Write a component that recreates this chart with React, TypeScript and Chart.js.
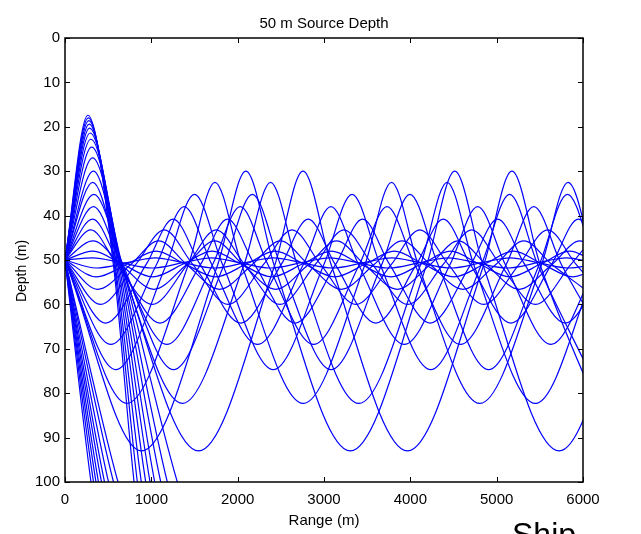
import React, { useEffect, useRef } from "react";
import { Chart, registerables } from "chart.js";

Chart.register(...registerables);

// ---- Text ----
const chartTitle = "50 m Source Depth";
const xTitle = "Range (m)";
const yTitle = "Depth (m)";

// ---- Axis ticks ----
const rangeTicks = [0, 1000, 2000, 3000, 4000, 5000, 6000];
const depthTicks = [0, 10, 20, 30, 40, 50, 60, 70, 80, 90, 100];

// ---- Rays: [range (m), depth (m)] at launch, turning points and source-depth crossings ----
// trapped rays launched downward / upward (pairs with the same launch angle)
const rayA = [[0,50],[885,93],[1770,51],[2095,30],[2420,51],[3305,93],[4190,51],[4515,30],[4840,51],[5725,93],[6610,51]];
const rayB = [[0,50],[330,30],[655,51],[1547,93],[2432,51],[2757,30],[3082,51],[3967,93],[4852,51],[5177,30],[5502,51],[6387,93]];
const rayC = [[0,50],[715,82.3],[1430,51],[1737,32.5],[2045,51],[2760,82.3],[3475,51],[3782,32.5],[4090,51],[4805,82.3],[5520,51],[5827,32.5],[6135,51]];
const rayD = [[0,50],[322,32.5],[644,51],[1359,82.3],[2074,51],[2381,32.5],[2689,51],[3404,82.3],[4119,51],[4426,32.5],[4734,51],[5449,82.3],[6164,51]];
const rayE = [[0,50],[587,74.7],[1174,51],[1500,35.2],[1825,51],[2412,74.7],[2999,51],[3325,35.2],[3650,51],[4237,74.7],[4824,51],[5150,35.2],[5475,51],[6062,74.7]];
const rayF = [[0,50],[335,35.2],[670,51],[1257,74.7],[1844,51],[2170,35.2],[2495,51],[3082,74.7],[3669,51],[3995,35.2],[4320,51],[4907,74.7],[5494,51],[5820,35.2],[6145,51]];
const rayG = [[0,50],[530,69],[1060,51],[1380,38],[1700,51],[2230,69],[2760,51],[3080,38],[3400,51],[3930,69],[4460,51],[4780,38],[5100,51],[5630,69],[6160,51]];
const rayH = [[0,50],[330,38],[650,51],[1180,69],[1710,51],[2030,38],[2350,51],[2880,69],[3410,51],[3730,38],[4050,51],[4580,69],[5110,51],[5430,38],[5750,51],[6280,69]];
const rayI = [[0,50],[470,64.2],[940,51],[1252,40.8],[1565,51],[2035,64.2],[2505,51],[2817,40.8],[3130,51],[3600,64.2],[4070,51],[4382,40.8],[4695,51],[5165,64.2],[5635,51],[5947,40.8],[6260,51]];
const rayJ = [[0,50],[320,40.8],[630,51],[1100,64.2],[1570,51],[1882,40.8],[2195,51],[2665,64.2],[3135,51],[3447,40.8],[3760,51],[4230,64.2],[4700,51],[5012,40.8],[5325,51],[5795,64.2],[6265,51]];
const rayK = [[0,50],[410,60],[820,51],[1150,43.2],[1480,51],[1890,60],[2300,51],[2630,43.2],[2960,51],[3370,60],[3780,51],[4110,43.2],[4440,51],[4850,60],[5260,51],[5590,43.2],[5920,51],[6330,60]];
const rayL = [[0,50],[300,43.2],[600,51],[1010,60],[1420,51],[1750,43.2],[2080,51],[2490,60],[2900,51],[3230,43.2],[3560,51],[3970,60],[4380,51],[4710,43.2],[5040,51],[5450,60],[5860,51],[6190,43.2]];
const rayM = [[0,50],[380,56.6],[760,51],[1085,45.7],[1410,51],[1790,56.6],[2170,51],[2495,45.7],[2820,51],[3200,56.6],[3580,51],[3905,45.7],[4230,51],[4610,56.6],[4990,51],[5315,45.7],[5640,51],[6020,56.6]];
const rayN = [[0,50],[325,45.7],[650,51],[1030,56.6],[1410,51],[1735,45.7],[2060,51],[2440,56.6],[2820,51],[3145,45.7],[3470,51],[3850,56.6],[4230,51],[4555,45.7],[4880,51],[5260,56.6],[5640,51],[5965,45.7],[6290,51]];
const rayO = [[0,50],[365,53.8],[730,50.8],[1055,48],[1380,50.8],[1745,53.8],[2110,50.8],[2435,48],[2760,50.8],[3125,53.8],[3490,50.8],[3815,48],[4140,50.8],[4505,53.8],[4870,50.8],[5195,48],[5520,50.8],[5885,53.8],[6250,50.8]];
const rayP = [[0,50],[325,48],[650,50.8],[1015,53.8],[1380,50.8],[1705,48],[2030,50.8],[2395,53.8],[2760,50.8],[3085,48],[3410,50.8],[3775,53.8],[4140,50.8],[4465,48],[4790,50.8],[5155,53.8],[5520,50.8],[5845,48],[6170,50.8]];
const rayQ = [[0,50],[360,51.8],[720,50.6],[1045,49.5],[1370,50.6],[1730,51.8],[2090,50.6],[2415,49.5],[2740,50.6],[3100,51.8],[3460,50.6],[3785,49.5],[4110,50.6],[4470,51.8],[4830,50.6],[5155,49.5],[5480,50.6],[5840,51.8],[6200,50.6]];
const rayR = [[0,50],[325,49.5],[650,50.6],[1010,51.8],[1370,50.6],[1695,49.5],[2020,50.6],[2380,51.8],[2740,50.6],[3065,49.5],[3390,50.6],[3750,51.8],[4110,50.6],[4435,49.5],[4760,50.6],[5120,51.8],[5480,50.6],[5805,49.5],[6130,50.6]];

// steep rays that reach the bottom (100 m)
const steepDown1 = [[0,50],[301,100],[376,109]];
const steepDown2 = [[0,50],[330,100],[413,109]];
const steepDown3 = [[0,50],[359,100],[449,109]];
const steepDown4 = [[0,50],[388,100],[485,109]];
const steepDown5 = [[0,50],[423,100],[529,109]];
const steepDown6 = [[0,50],[458,100],[573,109]];
const steepDown7 = [[0,50],[504,100],[630,109]];
const steepDown8 = [[0,50],[562,100],[703,109]];
const steepDown9 = [[0,50],[614,100],[768,109]];

const steepUp1 = [[0,50],[265,17.4],[560,51],[800,100],[860,109]];
const steepUp2 = [[0,50],[270,18.0],[570,51],[838,100],[905,109]];
const steepUp3 = [[0,50],[275,18.6],[580,51],[884,100],[960,109]];
const steepUp4 = [[0,50],[280,19.4],[595,51],[935,100],[1020,109]];
const steepUp5 = [[0,50],[285,20.3],[610,51],[985,100],[1079,109]];
const steepUp6 = [[0,50],[292,21.4],[625,51],[1039,100],[1143,109]];
const steepUp7 = [[0,50],[300,22.8],[640,51],[1109,100],[1226,109]];
const steepUp8 = [[0,50],[310,24.6],[650,51],[1185,100],[1319,109]];
const steepUp9 = [[0,50],[320,27.0],[660,51],[1301,100],[1461,109]];

const rays = [
  rayA, rayB, rayC, rayD, rayE, rayF, rayG, rayH, rayI, rayJ, rayK, rayL,
  rayM, rayN, rayO, rayP, rayQ, rayR,
  steepDown1, steepDown2, steepDown3, steepDown4, steepDown5, steepDown6, steepDown7, steepDown8, steepDown9,
  steepUp1, steepUp2, steepUp3, steepUp4, steepUp5, steepUp6, steepUp7, steepUp8, steepUp9,
];

const FONT = '"Liberation Sans", Arial, Helvetica, sans-serif';

const framePlugin = {
  id: "matlabFrame",
  afterDraw(chart: any) {
    const { ctx, chartArea } = chart;
    const { left, right, top, bottom } = chartArea;
    const xs = chart.scales.x;
    const ys = chart.scales.y;
    ctx.save();
    ctx.strokeStyle = "#000";
    ctx.lineWidth = 1;
    ctx.beginPath();
    for (const v of rangeTicks) {
      const px = Math.round(xs.getPixelForValue(v)) + 0.5;
      ctx.moveTo(px, bottom);
      ctx.lineTo(px, bottom - 5);
      ctx.moveTo(px, top);
      ctx.lineTo(px, top + 5);
    }
    for (const v of depthTicks) {
      const py = Math.round(ys.getPixelForValue(v)) + 0.5;
      ctx.moveTo(left, py);
      ctx.lineTo(left + 5, py);
      ctx.moveTo(right, py);
      ctx.lineTo(right - 5, py);
    }
    ctx.stroke();
    ctx.lineWidth = 1.5;
    ctx.strokeRect(left, top, right - left, bottom - top);

    // title, centred over the axes
    ctx.fillStyle = "#000";
    ctx.textAlign = "center";
    ctx.textBaseline = "middle";
    ctx.font = `15px ${FONT}`;
    ctx.fillText(chartTitle, (left + right) / 2, 24);

    // y-axis label
    ctx.save();
    ctx.translate(22, 271);
    ctx.rotate(-Math.PI / 2);
    ctx.font = `14px ${FONT}`;
    ctx.fillText(yTitle, 0, 0);
    ctx.restore();
    ctx.restore();
  },
};

export default function App() {
  const canvasRef = useRef<HTMLCanvasElement | null>(null);

  useEffect(() => {
    if (!canvasRef.current) return;
    Chart.defaults.font.family = FONT;
    Chart.defaults.color = "#000";
    const chart = new Chart(canvasRef.current, {
      type: "line",
      data: {
        datasets: rays.map((r) => ({
          data: r.map(([x, y]) => ({ x, y })),
          borderColor: "#0000ff",
          borderWidth: 1.2,
          pointRadius: 0,
          fill: false,
          cubicInterpolationMode: "monotone" as const,
        })),
      },
      plugins: [framePlugin],
      options: {
        responsive: false,
        devicePixelRatio: 1,
        animation: false,
        events: [],
        layout: { padding: { left: 0, right: 58, top: 38, bottom: 0 } },
        elements: { line: { capBezierPoints: false } },
        plugins: {
          legend: { display: false },
          tooltip: { enabled: false },
          title: { display: false },
        },
        scales: {
          x: {
            type: "linear",
            min: 0,
            max: 6000,
            afterBuildTicks: (s: any) => {
              s.ticks = rangeTicks.map((v) => ({ value: v }));
            },
            ticks: {
              color: "#000",
              font: { size: 15, family: FONT },
              padding: 9,
              maxRotation: 0,
              autoSkip: false,
              callback: (v: any) => String(v),
            },
            grid: { display: false, drawTicks: false },
            border: { display: false },
            title: {
              display: true,
              text: xTitle,
              color: "#000",
              font: { size: 15, family: FONT },
              padding: { top: 0, bottom: 4 },
            },
            afterFit: (s: any) => {
              s.height = 52;
            },
          },
          y: {
            type: "linear",
            min: 0,
            max: 100,
            reverse: true,
            afterBuildTicks: (s: any) => {
              s.ticks = depthTicks.map((v) => ({ value: v }));
            },
            ticks: {
              color: "#000",
              font: { size: 15, family: FONT },
              padding: 5,
              autoSkip: false,
              callback: (v: any) => String(v),
            },
            grid: { display: false, drawTicks: false },
            border: { display: false },
            title: { display: false },
            afterFit: (s: any) => {
              s.width = 65;
            },
          },
        },
      },
    } as any);
    return () => chart.destroy();
  }, []);

  return (
    <div
      style={{
        position: "fixed",
        left: 0,
        top: 0,
        width: 641,
        height: 534,
        overflow: "hidden",
        background: "#fff",
      }}
    >
      <canvas ref={canvasRef} width={641} height={534} style={{ display: "block" }} />
      <div
        style={{
          position: "absolute",
          left: 512,
          top: 518,
          fontFamily: FONT,
          fontSize: 32,
          lineHeight: 1,
          color: "#000",
          whiteSpace: "nowrap",
        }}
      >
        Ship
      </div>
    </div>
  );
}
